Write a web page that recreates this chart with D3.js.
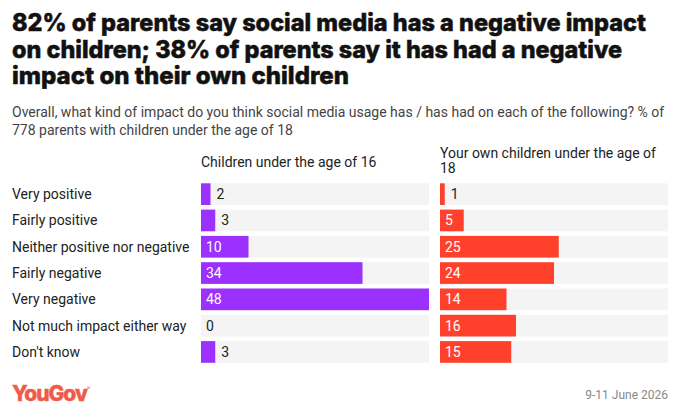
<!DOCTYPE html>
<html>
<head>
<meta charset="utf-8">
<script src="https://cdn.jsdelivr.net/npm/d3@7"></script>
<style>
  html, body { margin: 0; padding: 0; background: #fff; }
  svg { display: block; font-family: Roboto, "Noto Sans", sans-serif; }
  .bold { font-family: Inter, "Liberation Sans", sans-serif; }
</style>
</head>
<body>
<div id="chart"></div>
<script>
(function () {

    // --- data ---
    const categories = [
        'Very positive',
        'Fairly positive',
        'Neither positive nor negative',
        'Fairly negative',
        'Very negative',
        'Not much impact either way',
        "Don't know"
    ];
    const childrenUnder16 = [2, 3, 10, 34, 48, 0, 3];
    const ownChildrenUnder18 = [1, 5, 25, 24, 14, 16, 15];

    const titleLines = [
        '82% of parents say social media has a negative impact',
        'on children; 38% of parents say it has had a negative',
        'impact on their own children'
    ];
    const subtitleLines = [
        'Overall, what kind of impact do you think social media usage has / has had on each of the following? % of',
        '778 parents with children under the age of 18'
    ];
    const leftHeader = ['Children under the age of 16'];
    const rightHeader = ['Your own children under the age of', '18'];
    const dateLabel = '9-11 June 2026';

    const COLORS = {
        left: '#9b30ff',
        right: '#ff412c',
        track: '#f4f4f4',
        text: '#222',
        sub: '#444',
        logo: '#ef5b49',
        date: '#888'
    };

    const W = 680, H = 416;
    const FS = 14;
    const svg = d3.select('#chart').append('svg')
        .attr('width', W)
        .attr('height', H);

    // title
    const titleWidths = [634, 610, 337];
    svg.append('g').selectAll('text')
        .data(titleLines)
        .enter()
        .append('text')
        .attr('class', 'bold')
        .attr('x', 12)
        .attr('y', (d, i) => 31 + i * 26.5)
        .attr('font-size', 24)
        .attr('font-weight', 800)
        .attr('fill', '#111')
        .attr('stroke', '#111')
        .attr('stroke-width', 0.5)
        .text(d => d)
        .each(function (d, i) {
            // squeeze to the reference width if our font runs wider
            const len = this.getComputedTextLength();
            if (len > titleWidths[i]) {
                d3.select(this).attr('textLength', titleWidths[i]).attr('lengthAdjust', 'spacingAndGlyphs');
            }
        });

    // subtitle
    svg.append('g').selectAll('text')
        .data(subtitleLines)
        .enter()
        .append('text')
        .attr('x', 12)
        .attr('y', (d, i) => 117 + i * 17.5)
        .attr('font-size', FS)
        .attr('fill', COLORS.sub)
        .text(d => d);

    // rows
    const y = d3.scaleBand()
        .domain(categories)
        .range([181, 181 + 7 * 26.3])
        .paddingInner(0.175)
        .paddingOuter(0.0875);

    svg.append('g').selectAll('text')
        .data(categories)
        .enter()
        .append('text')
        .attr('x', 12)
        .attr('y', d => y(d) + y.bandwidth() / 2)
        .attr('dy', '0.35em')
        .attr('font-size', FS)
        .attr('fill', COLORS.text)
        .text(d => d);

    const drawPanel = function (x0, x1, values, color, header) {
        const x = d3.scaleLinear().domain([0, 48]).range([x0, x1]);
        const g = svg.append('g');

        g.selectAll('.hdr')
            .data(header)
            .enter()
            .append('text')
            .attr('class', 'hdr')
            .attr('x', x0)
            .attr('y', (d, i) => (header.length > 1 ? 158 : 167) + i * 15)
            .attr('font-size', FS)
            .attr('fill', COLORS.text)
            .text(d => d);

        const rows = categories.map((c, i) => ({ cat: c, value: values[i] }));

        g.selectAll('.track')
            .data(rows)
            .enter()
            .append('rect')
            .attr('class', 'track')
            .attr('x', x(0))
            .attr('width', x(48) - x(0))
            .attr('y', d => y(d.cat))
            .attr('height', y.bandwidth())
            .attr('fill', COLORS.track);

        g.selectAll('.bar')
            .data(rows)
            .enter()
            .append('rect')
            .attr('class', 'bar')
            .attr('x', x(0))
            .attr('width', d => x(d.value) - x(0))
            .attr('y', d => y(d.cat))
            .attr('height', y.bandwidth())
            .attr('fill', color);

        g.selectAll('.val')
            .data(rows)
            .enter()
            .append('text')
            .attr('class', 'val')
            .attr('y', d => y(d.cat) + y.bandwidth() / 2)
            .attr('dy', '0.35em')
            .attr('font-size', FS)
            .text(d => d.value)
            .each(function (d) {
                const tw = this.getComputedTextLength();
                const bw = x(d.value) - x(0);
                const inside = d.value > 0 && bw > tw + 10;
                d3.select(this)
                    .attr('x', inside ? x(0) + 5 : (d.value > 0 ? x(d.value) + 6 : x(0) + 5))
                    .attr('fill', inside ? '#fff' : COLORS.text);
            });
    };

    drawPanel(201, 429, childrenUnder16, COLORS.left, leftHeader);
    drawPanel(440, 668, ownChildrenUnder18, COLORS.right, rightHeader);

    // footer
    const logo = svg.append('text')
        .attr('class', 'bold')
        .attr('x', 12)
        .attr('y', 401)
        .attr('font-size', 21)
        .attr('font-weight', 800)
        .attr('letter-spacing', -1)
        .attr('fill', COLORS.logo)
        .attr('stroke', COLORS.logo)
        .attr('stroke-width', 0.4)
        .text('YouGov');
    logo.append('tspan')
        .attr('font-size', 5)
        .attr('dy', -11)
        .attr('font-weight', 400)
        .attr('stroke-width', 0)
        .text('®');

    svg.append('text')
        .attr('x', 668)
        .attr('y', 399)
        .attr('text-anchor', 'end')
        .attr('font-size', 12)
        .attr('fill', COLORS.date)
        .text(dateLabel);

})();
</script>
</body>
</html>
